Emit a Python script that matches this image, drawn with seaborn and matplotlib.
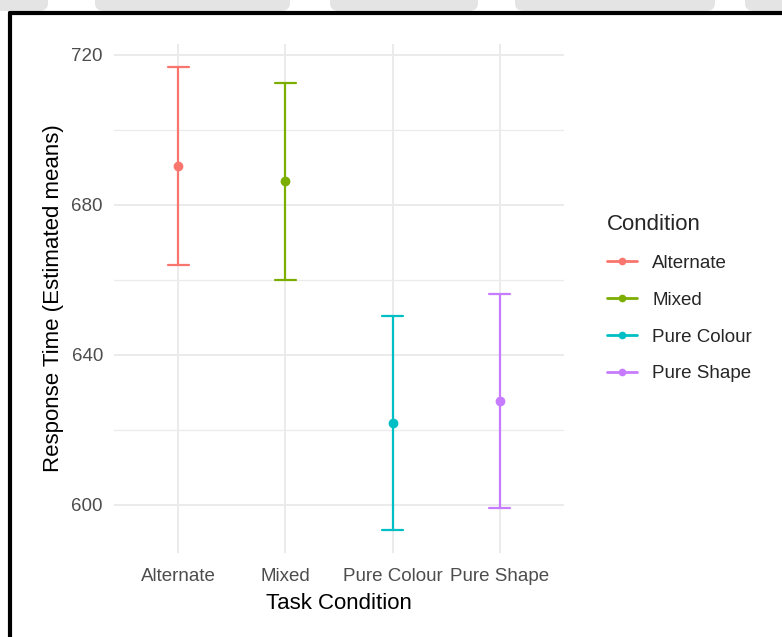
import matplotlib
matplotlib.use("Agg")
import matplotlib.pyplot as plt
from matplotlib.lines import Line2D
from matplotlib.patches import FancyBboxPatch
import numpy as np
import pandas as pd
import seaborn as sns

# Estimated marginal means of response time with their confidence limits
conditions = ["Alternate", "Mixed", "Pure Colour", "Pure Shape"]
means = [690.4, 686.3, 621.9, 627.7]
lower = [664.0, 660.0, 593.3, 599.1]
upper = [716.7, 712.5, 650.3, 656.3]
palette = ["#F8766D", "#7CAE00", "#00BFC4", "#C77CFF"]
y_ticks = [600, 640, 680, 720]
y_minor = [620, 660, 700]

# Long form: each condition contributes its lower limit, mean and upper limit,
# so the median is the mean and the full-range interval is the CI.
rows = []
for c, lo, m, hi in zip(conditions, lower, means, upper):
    for v in (lo, m, hi):
        rows.append({"Condition": c, "RT": v})
df = pd.DataFrame(rows)

sns.set_theme(style="white")
plt.rcParams["font.family"] = ["Liberation Sans", "DejaVu Sans"]

fig = plt.figure(figsize=(7.82, 6.37), dpi=100)
W, H = 782, 637
ax = fig.add_axes([114 / W, (H - 553) / H, 450 / W, 509 / H])

sns.pointplot(
    data=df, x="Condition", y="RT", hue="Condition", order=conditions,
    hue_order=conditions, palette=palette, estimator="median",
    errorbar=("pi", 100), capsize=0.2, linestyle="none", markers="o",
    markersize=5, err_kws={"linewidth": 1.6}, legend=False, ax=ax,
)

ax.set_xlim(-0.6, 3.6)
ax.set_ylim(587.1, 722.9)
ax.set_yticks(y_ticks)
ax.set_yticks(y_minor, minor=True)
ax.grid(True, which="major", color="#EBEBEB", linewidth=1.4)
ax.grid(True, which="minor", axis="y", color="#EBEBEB", linewidth=0.9)
ax.set_axisbelow(True)
for s in ax.spines.values():
    s.set_visible(False)
ax.tick_params(axis="both", which="both", length=0, labelsize=13.5,
               labelcolor="#4D4D4D")
ax.tick_params(axis="y", pad=8)
ax.tick_params(axis="x", pad=10.5)
ax.set_xlabel("Task Condition", fontsize=16, color="black", labelpad=6)
ax.set_ylabel("Response Time (Estimated means)", fontsize=16,
              color="black", labelpad=5)

handles = [Line2D([0], [0], color=c, lw=2, marker="o", markersize=4.5)
           for c in palette]
leg = fig.legend(
    handles, conditions, title="Condition", loc="upper left",
    bbox_to_anchor=(598 / W, 1 - 205 / H), frameon=False,
    fontsize=13.5, title_fontsize=16, handlelength=1.6,
    handletextpad=0.8, labelspacing=1.05, borderpad=0,
    alignment="left",
)
leg._legend_box.sep = 14

# Screenshot frame: black border on the top and left, grey strip above
fig.add_artist(Line2D([10 / W, 10 / W], [0, 1 - 13 / H],
                      transform=fig.transFigure, color="black", lw=3))
fig.add_artist(Line2D([10 / W, 1], [1 - 13 / H, 1 - 13 / H],
                      transform=fig.transFigure, color="black", lw=3))
for x0, x1 in [(-20, 48), (95, 290), (330, 478), (515, 715), (745, 800)]:
    fig.add_artist(FancyBboxPatch(
        (x0 / W, 1 - 11 / H), (x1 - x0) / W, 20 / H,
        boxstyle="round,pad=0,rounding_size=0.012",
        transform=fig.transFigure, facecolor="#E4E4E4", edgecolor="none",
        zorder=0))

fig.savefig("out.png", dpi=100)
